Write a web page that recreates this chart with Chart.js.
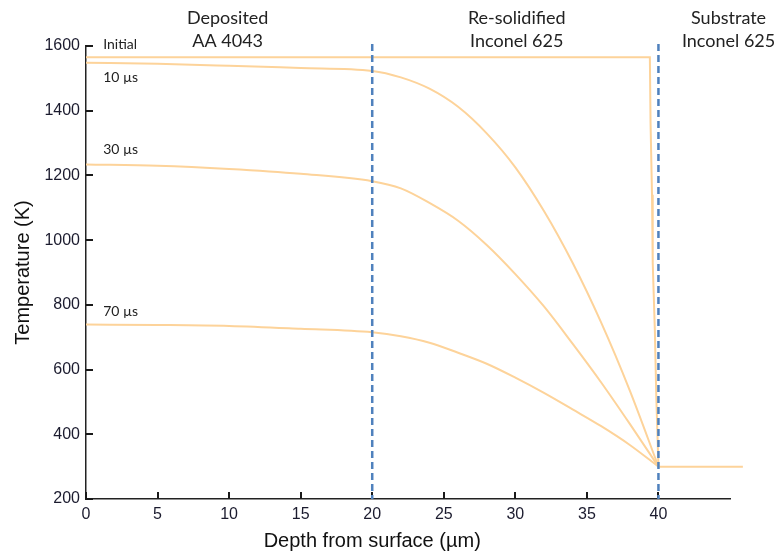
<!DOCTYPE html>
<html>
<head>
<meta charset="utf-8">
<script src="https://cdn.jsdelivr.net/npm/chart.js@4.4.1/dist/chart.umd.min.js"></script>
<style>
  html, body { margin: 0; padding: 0; background: #fff; }
  #wrap { width: 776px; height: 554px; position: relative; }
</style>
</head>
<body>
<div id="wrap"><canvas id="chart"></canvas></div>
<script>
// temperature profiles
const depthInitial = [0, 39.4, 39.45, 39.55, 39.6, 39.75, 39.85, 40, 45.9];
const tempInitial = [1565, 1565, 1360, 1140, 930, 720, 515, 300, 300];

const depth10 = [0, 5, 10, 15, 20, 22, 24, 26, 28, 30, 32, 34, 36, 38, 40];
const temp10 = [1548, 1545, 1539, 1532, 1523, 1503, 1468, 1412, 1330, 1225, 1090, 930, 745, 535, 300];

const depth30 = [0, 5, 10, 15, 20, 22, 24, 26, 28, 30, 32, 34, 36, 38, 40];
const temp30 = [1234, 1230, 1220, 1205, 1182, 1160, 1115, 1060, 985, 895, 795, 680, 560, 432, 300];

const depth70 = [0, 5, 10, 15, 20, 22, 24, 26, 28, 30, 32, 34, 36, 38, 40];
const temp70 = [739, 738, 735, 726, 715, 703, 683, 652, 618, 575, 528, 477, 425, 367, 300];

const curveNames = ['Initial', '10 \u00b5s', '30 \u00b5s', '70 \u00b5s'];
const curveLabelAt = [1606, 1504, 1279, 781];

const boundaries = [20, 40];
const regionNames = [['Deposited', 'AA 4043'], ['Re-solidified', 'Inconel 625'], ['Substrate', 'Inconel 625']];
const regionCenters = [9.9, 30.1, 44.9];

const xTicks = [0, 5, 10, 15, 20, 25, 30, 35, 40];

function toPoints(xs, ys) {
  return xs.map((x, i) => ({ x: x, y: ys[i] }));
}

const lineColour = '#fdd39a';

function makeSet(label, xs, ys, smooth) {
  return {
    label: label,
    data: toPoints(xs, ys),
    borderColor: lineColour,
    borderWidth: 2,
    pointRadius: 0,
    showLine: true,
    fill: false,
    tension: smooth ? 0.4 : 0,
    cubicInterpolationMode: smooth ? 'monotone' : 'default',
    clip: false
  };
}

const decor = {
  id: 'decor',
  afterDraw(chart) {
    const ctx = chart.ctx;
    const xs = chart.scales.x, ys = chart.scales.y;
    const area = chart.chartArea;
    ctx.save();

    // inward tick marks as small filled bars
    ctx.fillStyle = '#1a1a1a';
    xTicks.forEach(v => {
      const px = Math.round(xs.getPixelForValue(v));
      ctx.fillRect(px - 1, area.bottom - 7, 2, 7);
    });
    ys.ticks.forEach(t => {
      const py = Math.round(ys.getPixelForValue(t.value));
      ctx.fillRect(area.left, py - 1, 7, 2);
    });

    // region boundaries
    ctx.strokeStyle = '#4f81bd';
    ctx.lineWidth = 2.5;
    ctx.setLineDash([7, 4]);
    boundaries.forEach(v => {
      const px = xs.getPixelForValue(v);
      ctx.beginPath();
      ctx.moveTo(px, area.top - 2);
      ctx.lineTo(px, area.bottom);
      ctx.stroke();
    });
    ctx.setLineDash([]);

    // curve names
    ctx.fillStyle = '#222';
    ctx.font = '14px Lato';
    ctx.textAlign = 'left';
    ctx.textBaseline = 'middle';
    curveNames.forEach((name, i) => {
      ctx.fillText(name, xs.getPixelForValue(1.2), ys.getPixelForValue(curveLabelAt[i]));
    });

    // region headers
    ctx.font = '18px Lato';
    ctx.textAlign = 'center';
    regionNames.forEach((lines, i) => {
      const px = xs.getPixelForValue(regionCenters[i]);
      ctx.fillText(lines[0], px, 18);
      ctx.fillText(lines[1], px, 41);
    });

    // axis titles
    ctx.font = '20px "Liberation Sans"';
    ctx.fillStyle = '#111';
    ctx.fillText('Depth from surface (\u00b5m)', xs.getPixelForValue(20), 541);
    ctx.translate(23, (area.top + area.bottom) / 2);
    ctx.rotate(-Math.PI / 2);
    ctx.fillText('Temperature (K)', 0, 0);
    ctx.restore();
  }
};

const tickFont = { family: '"Liberation Sans", Arial, sans-serif', size: 16 };

new Chart(document.getElementById('chart'), {
  type: 'scatter',
  data: {
    datasets: [
      makeSet(curveNames[0], depthInitial, tempInitial, false),
      makeSet(curveNames[1], depth10, temp10, true),
      makeSet(curveNames[2], depth30, temp30, true),
      makeSet(curveNames[3], depth70, temp70, true)
    ]
  },
  options: {
    responsive: true,
    maintainAspectRatio: false,
    animation: false,
    layout: { padding: { top: 46, right: 46, left: 0, bottom: 0 } },
    plugins: {
      legend: { display: false },
      tooltip: { enabled: false }
    },
    scales: {
      x: {
        type: 'linear',
        min: 0,
        max: 45,
        afterFit: scale => { scale.height = 55; },
        afterBuildTicks: scale => { scale.ticks = xTicks.map(v => ({ value: v })); },
        grid: { display: false, drawTicks: false },
        border: { display: true, color: '#222', width: 1.5 },
        ticks: {
          padding: 6,
          color: '#1b1b2e',
          font: tickFont,
          maxRotation: 0,
          callback: v => String(v)
        }
      },
      y: {
        min: 200,
        max: 1600,
        afterFit: scale => { scale.width = 86; },
        grid: { display: false, drawTicks: false },
        border: { display: true, color: '#222', width: 1.5 },
        ticks: {
          stepSize: 200,
          padding: 6,
          color: '#1b1b2e',
          font: tickFont,
          callback: v => String(v)
        }
      }
    }
  },
  plugins: [decor]
});
</script>
</body>
</html>
